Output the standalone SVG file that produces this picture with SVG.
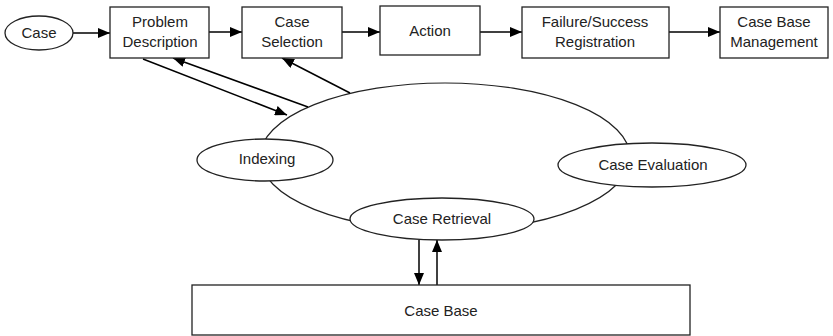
<svg xmlns="http://www.w3.org/2000/svg" width="833" height="336" viewBox="0 0 833 336">
<defs>
<marker id="ah" markerWidth="12" markerHeight="10" refX="12" refY="5" orient="auto" markerUnits="userSpaceOnUse">
<path d="M0,0 L12,5 L0,10 z" fill="#000"/>
</marker>
<style>
.n{fill:#fff;stroke:#222;stroke-width:1.3}
.b{fill:none;stroke:#222;stroke-width:1.2}
.t{font-family:"Liberation Sans",Arial,sans-serif;font-size:15px;fill:#222;text-anchor:middle}
.c{stroke:#000;stroke-width:1.5;fill:none;marker-end:url(#ah)}
</style>
</defs>
<rect width="833" height="336" fill="#fff"/>
<g id="cycle"><ellipse class="b" cx="445" cy="157" rx="185" ry="74"/></g>
<g id="connectors">
<line class="c" x1="73" y1="33" x2="110" y2="33"/>
<line class="c" x1="209" y1="32" x2="242" y2="32"/>
<line class="c" x1="342" y1="32" x2="380" y2="32"/>
<line class="c" x1="480" y1="32" x2="522" y2="32"/>
<line class="c" x1="669" y1="32" x2="720" y2="32"/>
<line class="c" x1="143" y1="59" x2="287" y2="115"/>
<line class="c" x1="308" y1="107" x2="173" y2="58"/>
<line class="c" x1="350" y1="93" x2="282" y2="58"/>
<line class="c" x1="419" y1="240" x2="419" y2="285"/>
<line class="c" x1="437" y1="285" x2="437" y2="240"/>
</g>
<g id="case"><ellipse class="n" cx="39" cy="33" rx="34" ry="17"/><text class="t" x="39" y="38">Case</text></g>
<g id="problem"><rect class="n" x="110" y="7" width="99" height="51"/><text class="t" x="160" y="27">Problem</text><text class="t" x="160" y="47">Description</text></g>
<g id="selection"><rect class="n" x="242" y="7" width="100" height="51"/><text class="t" x="292" y="27">Case</text><text class="t" x="292" y="47">Selection</text></g>
<g id="action"><rect class="n" x="380" y="6" width="100" height="49"/><text class="t" x="430" y="36">Action</text></g>
<g id="registration"><rect class="n" x="522" y="7" width="147" height="51"/><text class="t" x="595" y="27">Failure/Success</text><text class="t" x="595" y="47">Registration</text></g>
<g id="management"><rect class="n" x="720" y="7" width="108" height="51"/><text class="t" x="774" y="27">Case Base</text><text class="t" x="774" y="47">Management</text></g>
<g id="indexing"><ellipse class="n" cx="265" cy="160" rx="68" ry="21"/><text class="t" x="267" y="164">Indexing</text></g>
<g id="evaluation"><ellipse class="n" cx="652" cy="165" rx="94" ry="22"/><text class="t" x="653" y="170">Case Evaluation</text></g>
<g id="retrieval"><ellipse class="n" cx="442" cy="219" rx="92" ry="21"/><text class="t" x="442" y="224">Case Retrieval</text></g>
<g id="casebase"><rect class="n" x="192" y="285" width="498" height="50"/><text class="t" x="441" y="316">Case Base</text></g>
</svg>
